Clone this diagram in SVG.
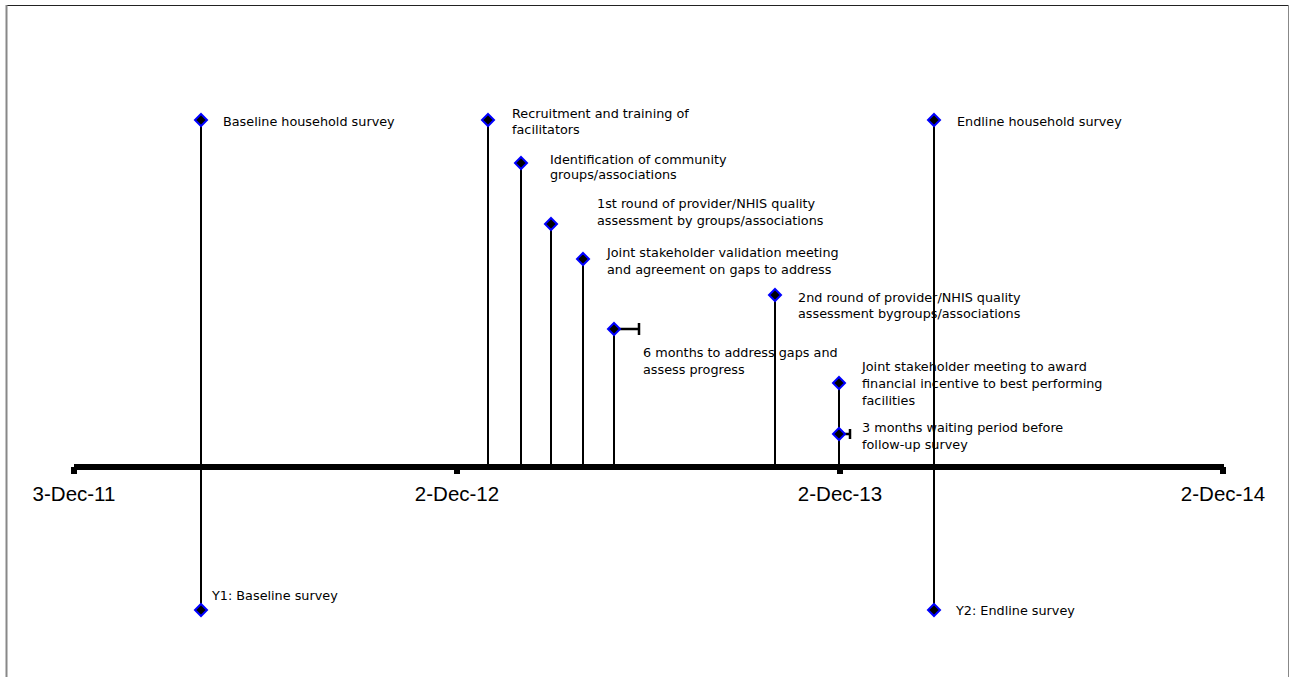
<svg xmlns="http://www.w3.org/2000/svg" width="1295" height="677" viewBox="0 0 1295 677">
<style>
.lbl{font-family:"DejaVu Sans",Verdana,sans-serif;font-size:12.8px;fill:#000}
.ax{font-family:"Liberation Sans",Arial,sans-serif;font-size:20.5px;fill:#000;text-anchor:middle}
.stem{stroke:#000;stroke-width:2;fill:none}
.err{stroke:#000;stroke-width:2.5;fill:none}
.dia{fill:#000;stroke:#0000ff;stroke-width:2}
</style>
<defs>
<path id="d" class="dia" d="M0,-6 L6,0 L0,6 L-6,0 Z"/>
</defs>
<rect x="0" y="0" width="1295" height="677" fill="#fff"/>
<g id="frame">
<line x1="6" y1="5.5" x2="1289" y2="5.5" stroke="#222" stroke-width="1"/>
<line x1="6.5" y1="5" x2="6.5" y2="677" stroke="#888" stroke-width="2"/>
<line x1="1288.5" y1="5" x2="1288.5" y2="677" stroke="#888" stroke-width="1"/>
</g>
<g id="connectors">
<line class="stem" x1="201" y1="120" x2="201" y2="610"/>
<line class="stem" x1="934" y1="120" x2="934" y2="610"/>
<line class="stem" x1="488" y1="120" x2="488" y2="467"/>
<line class="stem" x1="521" y1="163" x2="521" y2="467"/>
<line class="stem" x1="551" y1="224" x2="551" y2="467"/>
<line class="stem" x1="583" y1="259" x2="583" y2="467"/>
<line class="stem" x1="614" y1="329" x2="614" y2="467"/>
<line class="stem" x1="775" y1="295" x2="775" y2="467"/>
<line class="stem" x1="839" y1="383" x2="839" y2="467"/>
<path class="err" d="M614,329 H639 M639,323 V335"/>
<path class="err" d="M839,434 H850 M850,429 V439"/>
</g>
<g id="axis">
<line x1="74" y1="467" x2="1224" y2="467" stroke="#000" stroke-width="6"/>
<rect x="71" y="467" width="6" height="7" fill="#000"/>
<rect x="454" y="467" width="6" height="7" fill="#000"/>
<rect x="837" y="467" width="6" height="7" fill="#000"/>
<rect x="1220" y="467" width="6" height="7" fill="#000"/>
<text class="ax" x="74" y="501">3-Dec-11</text>
<text class="ax" x="457" y="501">2-Dec-12</text>
<text class="ax" x="840" y="501">2-Dec-13</text>
<text class="ax" x="1223" y="501">2-Dec-14</text>
</g>
<g id="n-baseline"><use href="#d" x="201" y="120"/><text class="lbl" x="223" y="125.5">Baseline household survey</text></g>
<g id="n-recruit"><use href="#d" x="488" y="120"/><text class="lbl" x="512" y="117.5">Recruitment and training of</text><text class="lbl" x="512" y="133.5">facilitators</text></g>
<g id="n-ident"><use href="#d" x="521" y="163"/><text class="lbl" x="550" y="163.5">Identification of community</text><text class="lbl" x="550" y="179">groups/associations</text></g>
<g id="n-round1"><use href="#d" x="551" y="224"/><text class="lbl" x="597" y="207.5">1st round of provider/NHIS quality</text><text class="lbl" x="597" y="224.5">assessment by groups/associations</text></g>
<g id="n-validation"><use href="#d" x="583" y="259"/><text class="lbl" x="607" y="256.5">Joint stakeholder validation meeting</text><text class="lbl" x="607" y="273.5">and agreement on gaps to address</text></g>
<g id="n-6months"><use href="#d" x="614" y="329"/><text class="lbl" x="643" y="356.5">6 months to address gaps and</text><text class="lbl" x="643" y="373.5">assess progress</text></g>
<g id="n-round2"><use href="#d" x="775" y="295"/><text class="lbl" x="798" y="301.5">2nd round of provider/NHIS quality</text><text class="lbl" x="798" y="317.5">assessment bygroups/associations</text></g>
<g id="n-award"><use href="#d" x="839" y="383"/><text class="lbl" x="862" y="370.5">Joint stakeholder meeting to award</text><text class="lbl" x="862" y="387.5">financial incentive to best performing</text><text class="lbl" x="862" y="404.5">facilities</text></g>
<g id="n-3months"><use href="#d" x="839" y="434"/><text class="lbl" x="862" y="431.5">3 months waiting period before</text><text class="lbl" x="862" y="448.5">follow-up survey</text></g>
<g id="n-endline"><use href="#d" x="934" y="120"/><text class="lbl" x="957" y="125.5">Endline household survey</text></g>
<g id="n-y1"><use href="#d" x="201" y="610"/><text class="lbl" x="212" y="599.5">Y1: Baseline survey</text></g>
<g id="n-y2"><use href="#d" x="934" y="610"/><text class="lbl" x="956" y="614.5">Y2: Endline survey</text></g>
</svg>
